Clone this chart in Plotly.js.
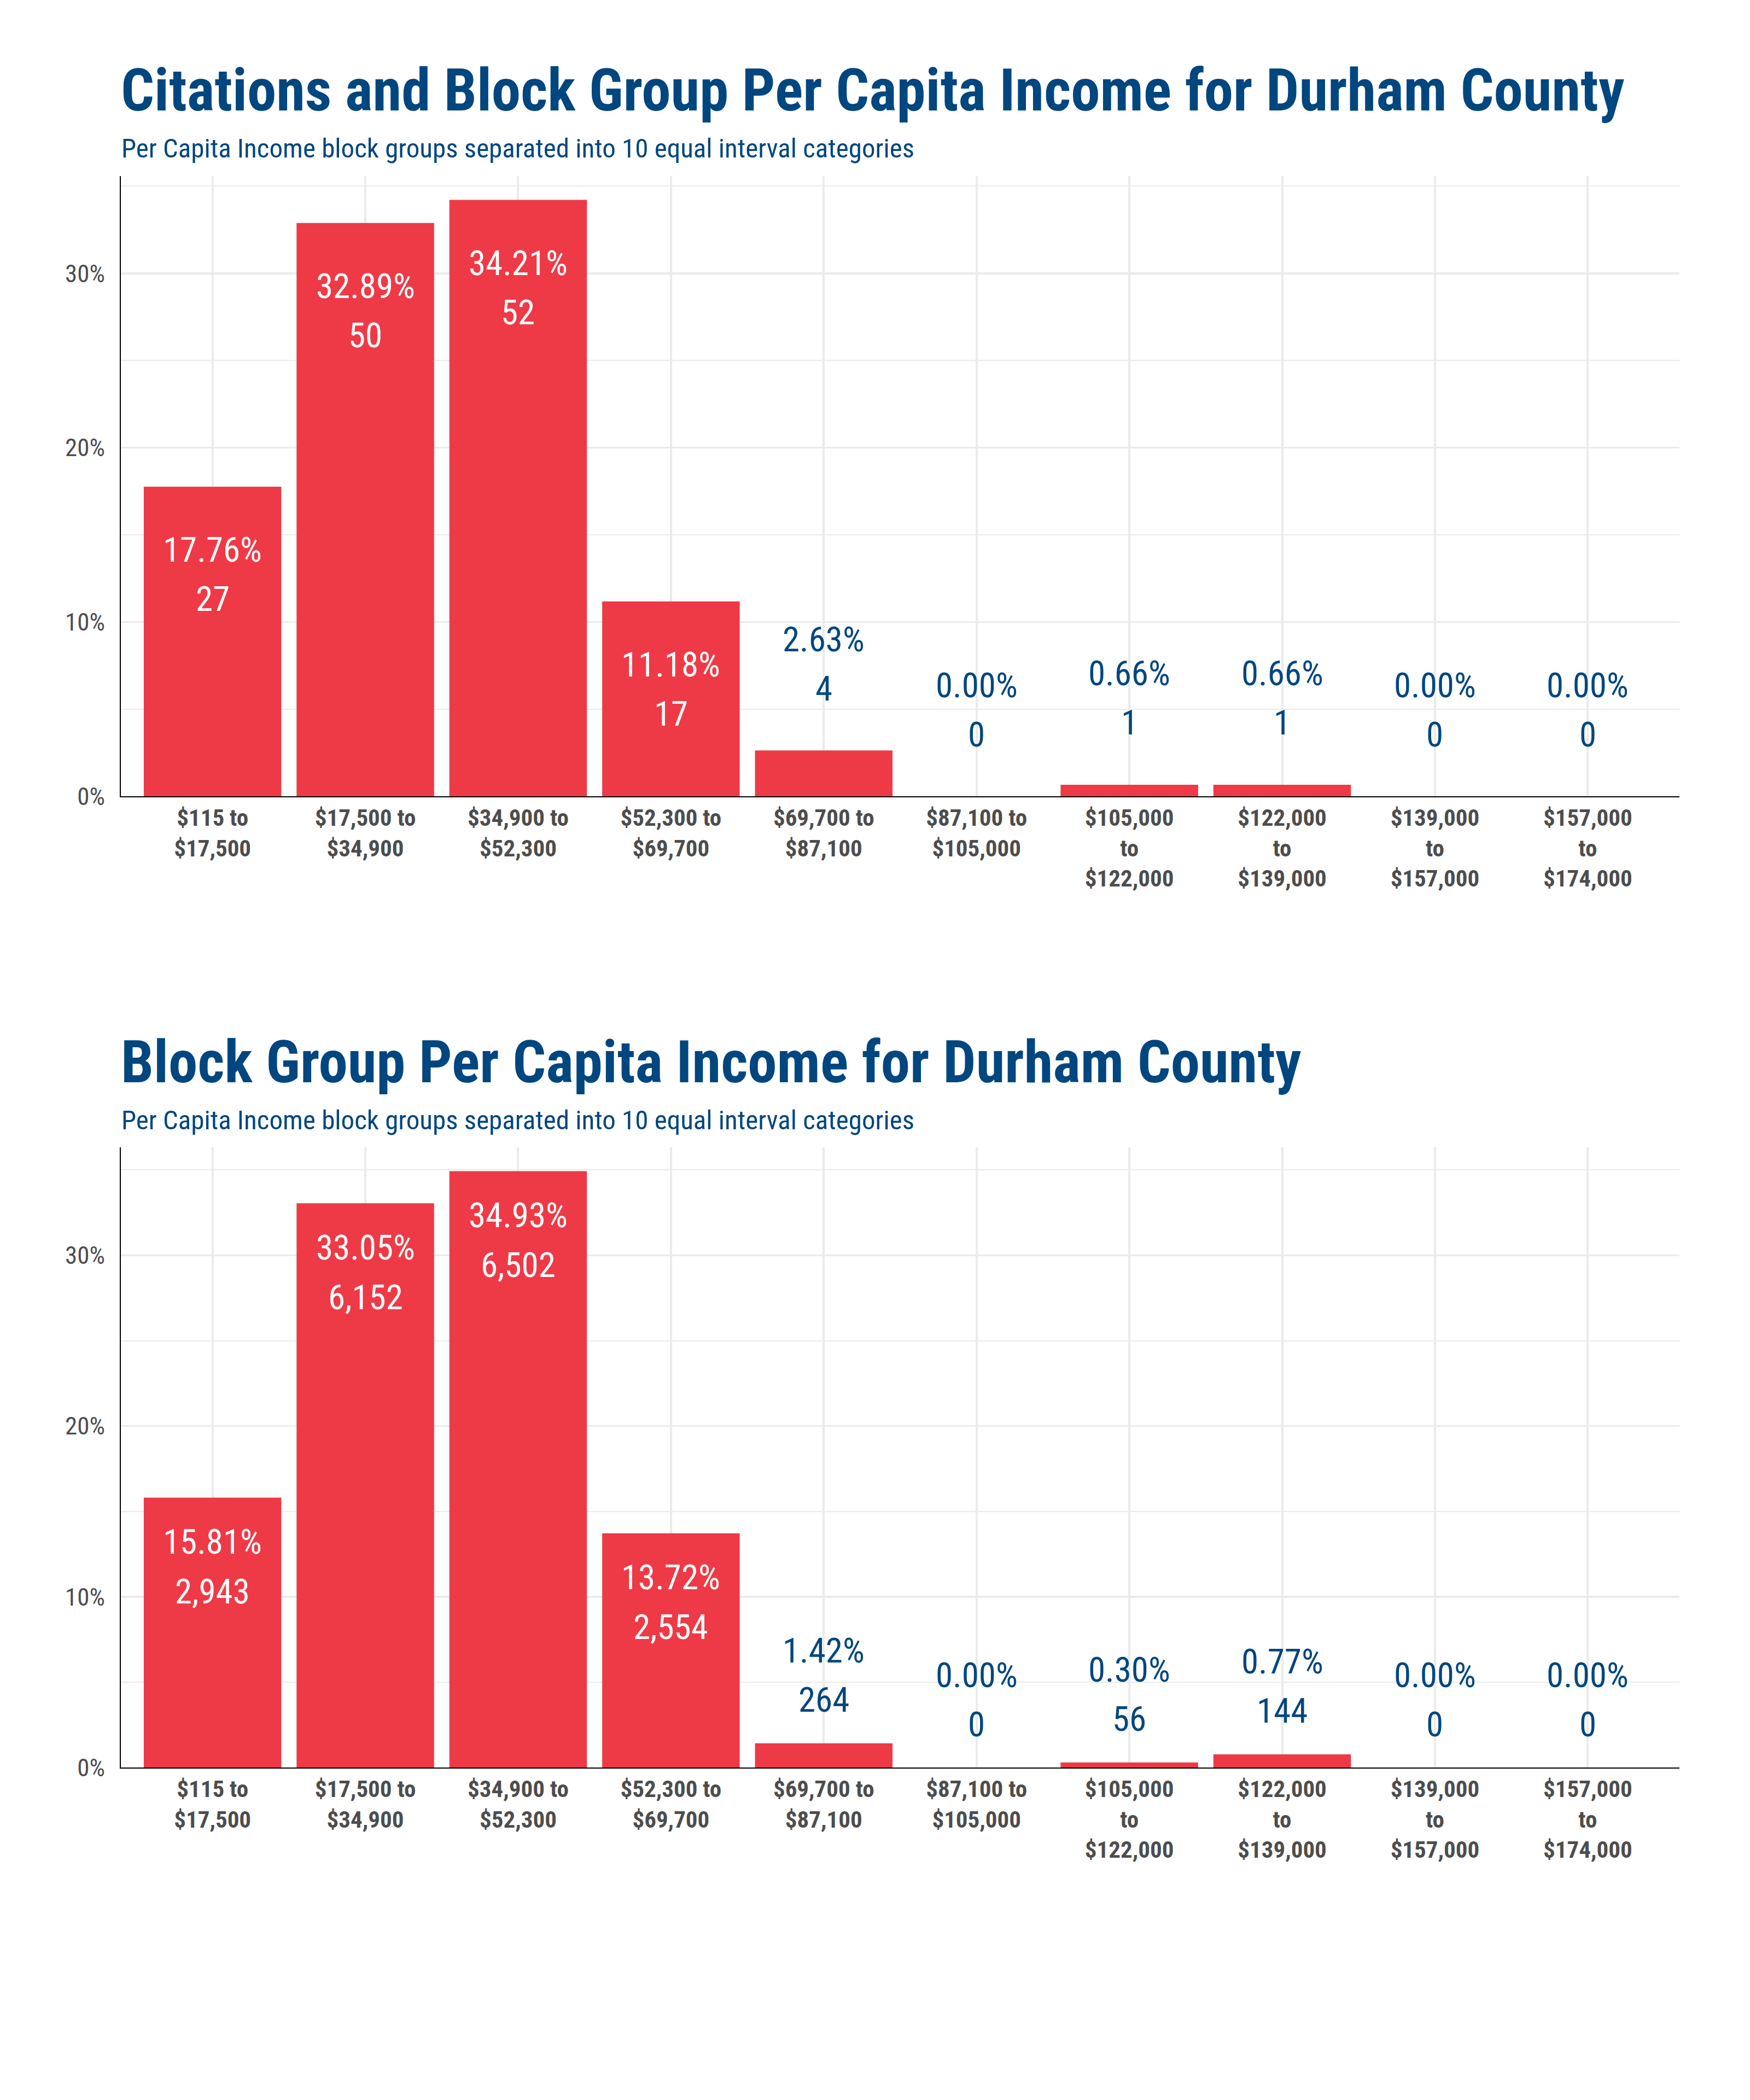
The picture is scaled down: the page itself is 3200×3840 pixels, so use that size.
<!DOCTYPE html>
<html>
<head>
<meta charset="utf-8">
<script src="https://cdn.plot.ly/plotly-3.0.1.min.js"></script>
<style>html,body{margin:0;padding:0;background:#fff;}</style>
</head>
<body>
<div id="chart" style="width:3200px;height:3840px;"></div>
<script>
// ---------- data ----------
const categories = [
  "$115 to<br>$17,500",
  "$17,500 to<br>$34,900",
  "$34,900 to<br>$52,300",
  "$52,300 to<br>$69,700",
  "$69,700 to<br>$87,100",
  "$87,100 to<br>$105,000",
  "$105,000<br>to<br>$122,000",
  "$122,000<br>to<br>$139,000",
  "$139,000<br>to<br>$157,000",
  "$157,000<br>to<br>$174,000"
];
const citationsPct = [17.76, 32.89, 34.21, 11.18, 2.63, 0.00, 0.66, 0.66, 0.00, 0.00];
const citationsCount = [27, 50, 52, 17, 4, 0, 1, 1, 0, 0];
const blockPct = [15.81, 33.05, 34.93, 13.72, 1.42, 0.00, 0.30, 0.77, 0.00, 0.00];
const blockCount = [2943, 6152, 6502, 2554, 264, 0, 56, 144, 0, 0];

const title1 = "Citations and Block Group Per Capita Income for Durham County";
const title2 = "Block Group Per Capita Income for Durham County";
const subtitle = "Per Capita Income block groups separated into 10 equal interval categories";

// ---------- style ----------
const W = 3200, H = 3840;
const FONT = "'Roboto Condensed', 'Liberation Sans Narrow', 'Arial Narrow', sans-serif";
const BAR = "#ee3a46";
const BLUE = "#00467f";
const GRID = "#ebebeb";
const TICK = "#4d4d4d";

const px2x = p => p / W;
const px2y = p => 1 - p / H;

const panels = [
  {pct: citationsPct, cnt: citationsCount, title: title1, titleY: 166, subY: 272, top: 322, bottom: 1456,
   inside: [-116, -206], outside: [203, 113], xa: "x", ya: "y"},
  {pct: blockPct, cnt: blockCount, title: title2, titleY: 1942, subY: 2048, top: 2098, bottom: 3232,
   inside: [-81, -172], outside: [169, 79], xa: "x2", ya: "y2"}
];

const data = [];
const annotations = [];
const layout = {
  width: W, height: H,
  margin: {l: 0, r: 0, t: 0, b: 0},
  paper_bgcolor: "#ffffff",
  plot_bgcolor: "#ffffff",
  showlegend: false,
  bargap: 0.1,
  font: {family: FONT, color: TICK},
  annotations: annotations
};

panels.forEach((p, i) => {
  data.push({
    type: "bar", x: categories, y: p.pct,
    xaxis: p.xa, yaxis: p.ya,
    marker: {color: BAR, line: {width: 0}},
    hoverinfo: "skip"
  });
  const sfx = i === 0 ? "" : "2";
  const ymax = Math.max(...p.pct) * 1.04;
  layout["xaxis" + sfx] = {
    domain: [px2x(221), px2x(3071)],
    anchor: "y" + sfx,
    type: "category",
    range: [-0.6, 9.6],
    showgrid: true, gridcolor: GRID, gridwidth: 4,
    showline: true, linecolor: "#000000", linewidth: 2,
    ticks: "", zeroline: false,
    tickfont: {family: FONT, size: 43, color: TICK, weight: "bold"},
    fixedrange: true
  };
  layout["yaxis" + sfx] = {
    domain: [px2y(p.bottom), px2y(p.top)],
    anchor: "x" + sfx,
    range: [0, ymax],
    tickvals: [0, 10, 20, 30],
    ticktext: ["0%", "10%", "20%", "30%"],
    showgrid: true, gridcolor: GRID, gridwidth: 3.5,
    minor: {dtick: 5, tick0: 0, showgrid: true, gridcolor: GRID, gridwidth: 2, ticks: ""},
    showline: true, linecolor: "#000000", linewidth: 2,
    ticks: "", zeroline: false,
    ticklabelstandoff: 18,
    tickfont: {family: FONT, size: 45, color: TICK},
    fixedrange: true
  };
  // titles
  annotations.push({
    xref: "paper", yref: "paper", x: px2x(219), y: px2y(p.titleY),
    xanchor: "left", yanchor: "middle", showarrow: false,
    text: "<b>" + p.title + "</b>",
    font: {family: FONT, size: 107, color: BLUE}
  });
  annotations.push({
    xref: "paper", yref: "paper", x: px2x(220), y: px2y(p.subY),
    xanchor: "left", yanchor: "middle", showarrow: false,
    text: subtitle,
    font: {family: FONT, size: 49, color: BLUE}
  });
  // value labels
  categories.forEach((c, j) => {
    const v = p.pct[j];
    const inside = v > 10;
    const col = inside ? "#ffffff" : BLUE;
    const sh = inside ? p.inside : p.outside;
    annotations.push({
      xref: p.xa, yref: p.ya, x: c, y: v, yshift: sh[0],
      xanchor: "center", yanchor: "middle", showarrow: false,
      text: v.toFixed(2) + "%",
      font: {family: FONT, size: 63, color: col}
    });
    annotations.push({
      xref: p.xa, yref: p.ya, x: c, y: v, yshift: sh[1],
      xanchor: "center", yanchor: "middle", showarrow: false,
      text: p.cnt[j].toLocaleString("en-US"),
      font: {family: FONT, size: 63, color: col}
    });
  });
});

Plotly.newPlot("chart", data, layout, {staticPlot: true, displayModeBar: false});
</script>
</body>
</html>
